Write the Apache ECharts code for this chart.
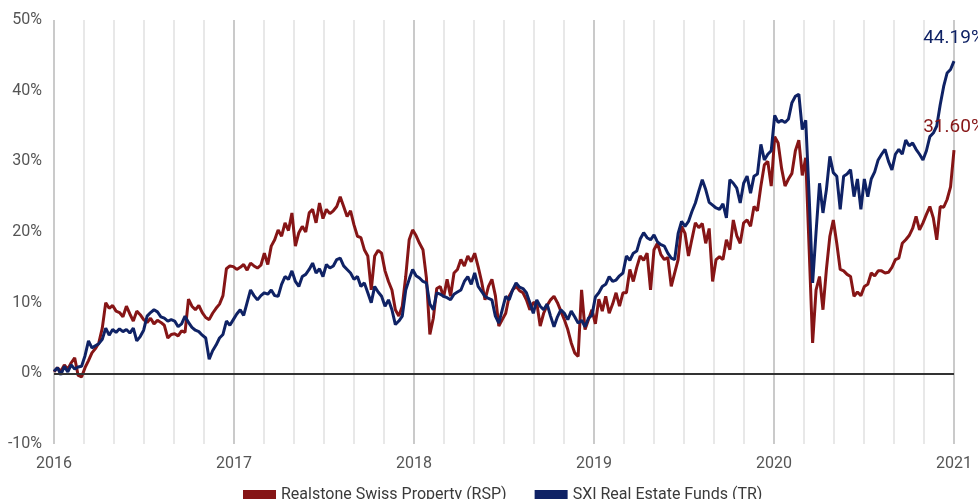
<!DOCTYPE html>
<html>
<head>
<meta charset="utf-8">
<script src="https://cdn.jsdelivr.net/npm/echarts@6/dist/echarts.min.js"></script>
<style>
  html, body { margin: 0; padding: 0; background: #fff; }
  #chart { width: 978px; height: 499px; }
</style>
</head>
<body>
<div id="chart"></div>
<script>
(function () {
    'use strict';

    // weekly performance in %, from 2016-01-01 to 2020-12-31
    var seriesNames = ['Realstone Swiss Property (RSP)', 'SXI Real Estate Funds (TR)'];
    var yearLabels = ['2016', '2017', '2018', '2019', '2020', '2021'];
    var endLabels = ['31.60%', '44.19%'];

    var rspValues = [
        0.2, 0.8, 0.3, 1.2, 0.6, 1.5, 2.2, -0.3, -0.5,
        0.8, 1.8, 2.9, 3.5, 4.3, 6.4, 10.0, 9.2, 9.6,
        8.8, 8.6, 8.0, 9.5, 8.4, 7.4, 8.8, 8.3, 7.6,
        7.2, 7.8, 7.0, 7.5, 7.2, 6.8, 5.0, 5.5,
        5.6, 5.3, 6.0, 5.8, 10.5, 9.5, 9.0, 9.6, 8.6,
        7.9, 7.6, 8.5, 9.2, 9.8, 11.0, 14.8, 15.2,
        15.1, 14.7, 15.0, 15.4, 14.6, 15.6, 15.2, 14.9, 15.3,
        17.0, 15.4, 18.0, 18.9, 20.3, 19.4, 21.3, 20.2, 22.7,
        18.0, 19.9, 20.8, 20.0, 22.7, 23.2, 21.3, 24.1, 21.9,
        23.2, 22.6, 23.0, 23.6, 25.0, 23.6, 22.2, 23.0, 21.0,
        19.4, 19.2, 17.5, 16.6, 11.8, 16.6, 17.4, 17.0,
        14.5, 13.0, 11.8, 9.0, 8.1, 9.5, 13.7, 18.9, 20.3,
        19.5, 18.4, 17.5, 13.5, 5.5, 7.8, 12.0, 12.3,
        10.8, 13.3, 10.9, 14.2, 14.7, 16.1, 15.2, 16.6, 15.8, 17.0,
        15.1, 13.0, 10.4, 12.3, 13.3, 11.0, 6.7, 7.6, 8.5, 10.9,
        11.8, 12.3, 11.7, 11.4, 10.4, 9.0, 10.0, 10.0, 6.7, 8.5,
        9.6, 10.4, 10.9, 10.0, 8.8, 7.6, 6.2, 4.3, 2.9, 2.4,
        11.8, 6.2, 7.6, 9.0, 7.0,
        10.5, 8.8, 10.9, 8.5, 9.8, 11.4, 9.5, 11.4,
        11.4, 14.7, 13.0, 15.0, 16.6, 16.0, 17.0, 11.8, 17.5,
        18.4, 16.8, 16.1, 16.4, 12.3, 14.2, 16.1, 20.8, 19.8,
        16.6, 19.0, 21.3, 20.6, 21.2, 18.4, 20.5, 13.0, 16.1, 16.5,
        16.1, 18.9, 17.5, 21.7, 19.5, 18.4, 21.3, 21.7, 20.8, 23.6,
        23.0, 26.5, 29.5, 30.0, 26.5, 33.5, 32.6,
        29.0, 26.5, 27.5, 28.3, 31.5, 33.0, 28.0, 30.5,
        17.5, 4.3, 11.8, 13.7, 9.0, 14.7, 19.4, 21.7, 18.4, 14.7, 14.5, 14.0,
        13.7, 10.9, 11.5, 11.0, 12.3, 12.6, 14.2, 13.8, 14.5, 14.5,
        14.2, 14.3, 15.0, 16.1, 16.3, 18.4, 18.9, 19.5, 20.5, 22.2,
        20.3, 21.3, 22.5, 23.6, 22.0, 18.9, 23.6, 23.5, 24.6, 26.4, 31.6
    ];

    var sxiValues = [
        0.3, 0.8, -0.2, 1.0, 0.2, 1.2, 0.6, 0.9, 1.0,
        2.5, 4.6, 3.6, 3.9, 4.2, 4.8, 6.4, 5.4, 6.2,
        5.8, 6.3, 5.9, 6.2, 5.7, 6.4, 4.6, 5.2, 6.1,
        8.1, 8.6, 9.0, 8.7, 8.0, 7.8, 7.4, 7.6,
        7.4, 6.6, 7.0, 8.1, 7.2, 6.5, 6.1, 5.9, 5.4,
        5.0, 2.0, 3.2, 4.0, 5.0, 5.5, 7.4, 6.8,
        7.6, 8.4, 9.0, 8.2, 10.0, 11.8, 11.0, 10.4, 11.0,
        11.4, 11.2, 11.8, 11.0, 10.9, 12.6, 13.7, 13.3, 14.5,
        13.0, 12.3, 13.7, 14.0, 14.7, 15.6, 14.2, 14.8, 13.7,
        15.4, 14.9, 15.2, 16.1, 16.3, 15.2, 14.7, 14.2, 13.3,
        13.7, 12.3, 12.8, 11.4, 10.0, 12.3, 11.5, 10.9, 9.5,
        10.4, 9.0, 6.9, 7.4, 8.1, 11.8, 13.3,
        14.7, 13.8, 13.5, 13.0, 12.8, 9.8, 9.0, 11.4, 11.2,
        10.9, 10.7, 10.4, 11.2, 11.5, 11.8, 13.0, 13.7, 12.6, 14.2,
        12.3, 11.6, 10.9, 10.6, 10.4, 8.1, 7.1, 9.0, 10.9, 10.4,
        11.8, 12.8, 12.2, 12.0, 11.4, 10.0, 8.5, 10.4, 9.5, 9.0,
        9.8, 8.1, 6.6, 8.0, 9.0, 8.5, 7.6, 8.8, 8.0, 7.1,
        7.5, 6.6, 7.8, 8.2, 10.8,
        11.4, 12.3, 12.6, 13.7, 13.0, 13.2, 13.8, 14.2,
        16.6, 16.0, 17.0, 17.3, 19.0, 19.9, 19.2, 18.9, 19.6,
        18.6, 18.2, 18.0, 17.0, 16.3, 16.1, 19.8, 21.5, 20.8,
        21.5, 22.9, 24.1, 25.8, 27.4, 26.0, 24.2, 23.8, 23.4, 23.2,
        24.0, 22.0, 27.4, 26.9, 26.2, 24.1, 26.9, 27.9, 25.5, 27.9,
        28.2, 32.4, 30.2, 31.0, 31.5, 36.5, 35.5,
        35.8, 35.5, 36.0, 38.3, 39.2, 39.5, 34.5, 35.8,
        25.0, 12.8, 20.0, 26.9, 22.7, 26.0, 30.7, 28.4, 27.9, 23.2, 27.9, 28.2,
        28.8, 25.0, 27.5, 23.2, 27.5, 25.0, 27.5, 28.5, 30.2, 31.0,
        31.7, 30.0, 28.8, 31.0, 31.7, 31.0, 33.0, 32.2, 32.6, 31.7,
        31.0, 30.2, 31.5, 33.5, 34.0, 35.0, 38.0, 40.6, 42.5, 43.0, 44.19
    ];

    var colors = ['#861516', '#0f2265'];
    var font = 'Roboto';

    // x in months since 2016-01-01 (60 months in total)
    function buildData(values) {
        var n = values.length;
        return values.map(function (v, i) {
            return [i * 60 / (n - 1), v];
        });
    }

    // label sitting above the last point of a series
    function endMark(values, color, endText) {
        return {
            silent: true,
            symbol: 'circle',
            symbolSize: 1,
            itemStyle: { color: 'rgba(0,0,0,0)' },
            label: {
                show: true,
                position: 'top',
                distance: 13,
                formatter: endText,
                color: color,
                fontFamily: font,
                fontSize: 19
            },
            data: [{ coord: [60, values[values.length - 1]] }]
        };
    }

    var myChart = echarts.init(document.getElementById('chart'));
    var option = {
        animation: false,
        grid: { left: 54, right: 24, top: 20, bottom: 55 },
        legend: {
            left: 238,
            top: 482,
            icon: 'rect',
            itemWidth: 33,
            itemHeight: 10,
            itemGap: 28,
            textStyle: { color: '#3a3a3a', fontFamily: font, fontSize: 16 },
            data: seriesNames
        },
        xAxis: {
            type: 'value',
            min: 0,
            max: 60,
            interval: 2,
            axisLine: { show: false },
            axisTick: { show: false },
            axisLabel: {
                margin: 12,
                color: '#555',
                fontFamily: font,
                fontSize: 16,
                showMinLabel: true,
                showMaxLabel: true,
                formatter: function (v) {
                    return v % 12 === 0 ? yearLabels[v / 12] : '';
                }
            },
            splitLine: {
                show: true,
                lineStyle: {
                    width: 2,
                    color: ['#cacaca', '#e8e8e8', '#e8e8e8', '#e8e8e8', '#e8e8e8', '#e8e8e8']
                }
            }
        },
        yAxis: {
            type: 'value',
            min: -10,
            max: 50,
            interval: 10,
            axisLine: { show: false },
            axisTick: { show: false },
            splitLine: { show: false },
            axisLabel: {
                margin: 12,
                color: '#555',
                fontFamily: font,
                fontSize: 16,
                formatter: '{value}%'
            }
        },
        series: [
            {
                name: seriesNames[0],
                type: 'line',
                symbol: 'none',
                color: colors[0],
                lineStyle: { width: 3, color: colors[0] },
                data: buildData(rspValues),
                markPoint: endMark(rspValues, colors[0], endLabels[0])
            },
            {
                name: seriesNames[1],
                type: 'line',
                symbol: 'none',
                color: colors[1],
                lineStyle: { width: 3, color: colors[1] },
                data: buildData(sxiValues),
                markPoint: endMark(sxiValues, colors[1], endLabels[1]),
                markLine: {
                    silent: true,
                    symbol: 'none',
                    label: { show: false },
                    lineStyle: { color: '#333', width: 2, type: 'solid' },
                    data: [{ yAxis: 0 }]
                }
            }
        ]
    };
    myChart.setOption(option);
})();
</script>
</body>
</html>
